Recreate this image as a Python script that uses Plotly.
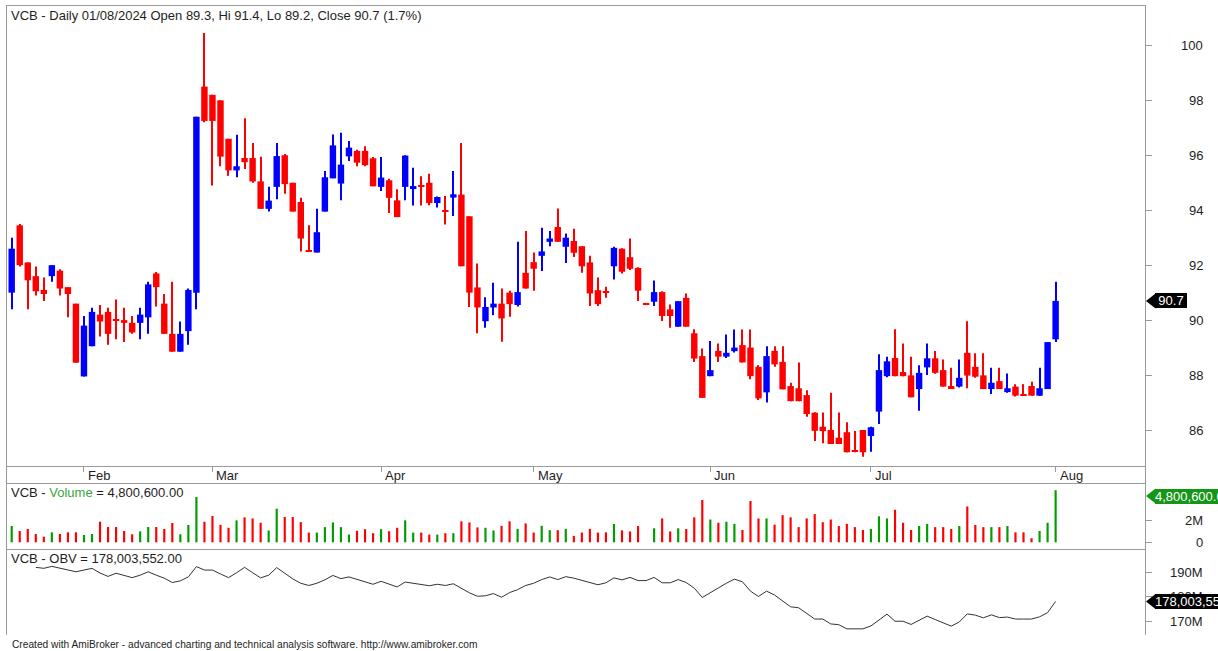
import plotly.graph_objects as go

W, H = 1218, 651

# ---------------- data ----------------
opens = [91.0, 93.45, 92.1, 91.6, 91.1, 91.6, 91.8, 91.2, 90.6, 87.95,
         89.05, 90.2, 90.3, 90.02, 90.0, 89.9, 89.9, 90.1, 91.7, 90.6,
         89.5, 88.85, 89.6, 91.0, 98.5, 98.2, 98.0, 96.6, 95.45, 95.9,
         95.9, 95.05, 94.05, 94.85, 96.0, 95.0, 94.3, 92.52, 92.46, 93.95,
         95.16, 94.97, 95.96, 96.16, 96.16, 95.89, 94.85, 95.09, 94.36, 94.85,
         94.77, 94.88, 95.0, 94.26, 94.0, 94.46, 94.57, 93.78, 91.19, 89.96,
         90.46, 90.6, 91.0, 90.55, 91.72, 92.11, 92.34, 92.85, 93.39, 92.67,
         92.88, 92.69, 92.1, 91.09, 91.02, 91.96, 92.6, 92.29, 91.9, 90.6,
         90.67, 91.02, 90.39, 89.76, 90.81, 89.52, 88.69, 87.96, 88.88, 88.67,
         88.87, 89.09, 89.0, 88.3, 87.37, 88.88, 88.48, 87.6, 87.52, 87.27,
         86.63, 86.12, 86.0, 85.72, 85.92, 85.22, 86.0, 85.78, 86.67, 87.96,
         88.62, 88.11, 87.99, 87.49, 88.28, 88.61, 88.18, 87.6, 87.58, 88.81,
         88.3, 87.99, 87.49, 87.78, 87.38, 87.58, 87.28, 87.6, 87.25, 87.49,
         89.3]
highs = [93.0, 93.5, 92.1, 91.95, 91.55, 92.0, 91.85, 91.2, 90.6, 90.15,
         90.45, 90.55, 90.45, 90.75, 90.45, 90.15, 90.45, 91.4, 91.75, 90.95,
         91.4, 89.95, 91.15, 97.4, 100.45, 98.2, 98.0, 96.6, 96.75, 97.35,
         96.45, 95.95, 94.85, 96.45, 96.05, 95.0, 94.45, 93.45, 94.05, 95.43,
         96.76, 96.82, 96.52, 96.2, 96.33, 95.94, 95.94, 95.15, 94.76, 96.0,
         95.55, 95.24, 95.33, 94.5, 94.52, 95.43, 96.45, 93.78, 92.06, 90.83,
         91.36, 91.15, 91.07, 92.85, 93.24, 92.46, 93.36, 93.24, 94.06, 93.15,
         93.33, 92.69, 92.34, 91.55, 91.21, 92.67, 92.62, 92.97, 91.92, 90.62,
         91.44, 91.05, 90.57, 90.7, 90.97, 89.67, 88.97, 89.24, 89.15, 89.48,
         89.66, 89.66, 89.66, 88.36, 89.05, 89.05, 89.05, 87.72, 88.46, 87.45,
         86.65, 86.64, 87.36, 86.64, 86.28, 85.96, 86.0, 86.12, 88.76, 88.67,
         89.67, 89.15, 88.67, 88.36, 89.15, 88.88, 88.57, 88.27, 88.57, 89.96,
         88.79, 88.79, 88.27, 88.27, 88.06, 87.67, 87.67, 87.76, 88.27, 89.2,
         91.4]
lows = [90.4, 91.95, 90.4, 90.9, 90.7, 91.4, 90.9, 90.1, 88.45, 87.95,
        89.05, 89.4, 89.1, 89.3, 89.2, 89.5, 89.3, 89.5, 90.5, 89.5,
        88.85, 88.85, 89.1, 90.4, 97.2, 94.9, 95.6, 95.25, 95.2, 95.5,
        95.0, 94.05, 93.95, 94.4, 94.6, 93.95, 92.5, 92.48, 92.46, 93.95,
        95.16, 94.36, 95.79, 95.6, 95.6, 94.87, 94.7, 93.9, 93.75, 94.36,
        94.17, 94.17, 94.18, 94.1, 93.48, 93.79, 91.96, 90.48, 89.52, 89.72,
        90.18, 89.21, 90.12, 90.5, 91.15, 91.07, 91.79, 92.69, 92.85, 92.08,
        92.3, 91.72, 90.51, 90.51, 90.81, 91.48, 91.7, 91.82, 90.7, 90.57,
        90.51, 89.97, 89.72, 89.76, 89.76, 88.48, 87.17, 87.96, 88.48, 88.62,
        88.82, 88.46, 87.85, 87.09, 87.0, 88.3, 87.48, 87.05, 87.05, 86.48,
        85.6, 85.52, 85.49, 85.49, 85.19, 85.19, 85.03, 85.21, 86.22, 87.92,
        87.96, 87.96, 87.19, 86.7, 88.0, 88.05, 87.58, 87.49, 87.55, 87.52,
        87.9, 87.49, 87.31, 87.49, 87.36, 87.22, 87.24, 87.25, 87.24, 87.49,
        89.2]
closes = [92.6, 92.0, 91.45, 91.05, 90.95, 92.0, 91.15, 90.95, 88.45, 89.8,
          90.3, 89.95, 89.5, 89.97, 89.9, 89.55, 90.2, 91.3, 91.2, 89.5,
          88.85, 89.5, 91.1, 97.4, 97.25, 97.25, 95.95, 95.45, 95.6, 95.75,
          95.05, 94.05, 94.35, 95.97, 94.95, 93.95, 92.97, 92.48, 93.2, 95.2,
          96.36, 95.66, 96.28, 95.73, 95.64, 94.87, 95.19, 94.45, 93.75, 95.99,
          94.88, 94.86, 94.26, 94.48, 93.95, 94.58, 91.96, 91.0, 90.46, 90.48,
          90.6, 90.06, 90.58, 91.02, 91.15, 91.87, 92.5, 92.97, 92.85, 93.0,
          92.45, 91.96, 90.97, 90.58, 90.99, 92.63, 91.76, 91.87, 91.07, 90.58,
          91.02, 90.15, 90.15, 90.69, 89.76, 88.6, 87.17, 88.18, 88.67, 88.81,
          89.0, 88.46, 87.96, 87.15, 88.69, 88.39, 87.48, 87.05, 87.05, 86.58,
          85.97, 85.96, 85.49, 85.49, 85.19, 85.2, 85.19, 86.1, 88.18, 88.5,
          87.96, 87.96, 87.19, 88.08, 88.61, 88.08, 87.58, 87.49, 87.9, 87.98,
          87.94, 87.49, 87.72, 87.49, 87.52, 87.25, 87.26, 87.25, 87.52, 89.2,
          90.7]
volume_m = [1.50, 1.04, 1.23, 0.77, 0.52, 0.92, 0.77, 0.92, 0.92, 0.67,
            0.77, 1.90, 1.41, 1.41, 1.04, 0.74, 1.01, 1.41, 1.41, 1.23,
            1.78, 0.74, 1.60, 4.17, 1.89, 2.42, 1.61, 1.34, 2.02, 2.30,
            2.20, 1.80, 1.09, 3.10, 2.33, 2.33, 1.86, 0.90, 0.90, 1.40,
            1.83, 1.40, 0.71, 1.06, 1.21, 0.84, 1.21, 1.02, 1.34, 2.02,
            0.90, 0.90, 0.71, 0.71, 0.84, 0.84, 1.93, 1.83, 1.37, 1.34,
            1.09, 1.52, 1.93, 1.24, 1.74, 0.90, 1.52, 1.12, 1.12, 1.24,
            0.59, 0.90, 1.24, 0.90, 0.92, 1.69, 1.10, 1.00, 1.50, 0.0,
            1.29, 2.20, 1.00, 1.29, 1.23, 2.30, 3.90, 2.10, 1.80, 1.90,
            1.70, 1.14, 3.80, 2.20, 2.20, 1.63, 2.50, 2.30, 1.40, 2.20,
            2.60, 1.85, 2.10, 1.50, 1.70, 1.40, 1.14, 1.23, 2.40, 2.20,
            3.00, 1.80, 1.14, 1.50, 1.70, 1.40, 1.40, 1.23, 1.50, 3.30,
            1.60, 1.40, 1.40, 1.40, 1.50, 0.92, 0.92, 0.37, 1.05, 1.80,
            4.8006]
obv_m = [None, None, None, 191.9, 191.5, 192.3, 191.6, 190.9, 190.1, 190.8,
         191.5, 189.6, 188.2, 189.5, 188.5, 187.7, 188.7, 190.1, 188.7, 187.5,
         185.7, 186.4, 188.0, 192.2, 190.8, 190.8, 189.2, 187.7, 189.7, 191.9,
         189.7, 187.6, 188.7, 191.8, 189.5, 187.2, 185.4, 184.5, 185.4, 186.8,
         188.6, 187.3, 188.0, 187.0, 185.8, 185.0, 186.2, 185.2, 183.9, 185.9,
         185.3, 184.8, 184.4, 185.0, 184.5, 185.2, 183.3, 181.5, 180.1, 180.3,
         181.2, 179.7, 181.6, 182.8, 184.5, 185.4, 186.9, 188.0, 186.9, 188.1,
         187.5, 186.6, 185.4, 184.8, 185.6, 187.6, 186.8, 187.8, 186.5, 186.5,
         187.8, 185.6, 185.6, 186.9, 185.7, 183.4, 179.6, 181.7, 183.5, 185.4,
         187.1, 186.0, 182.2, 180.0, 182.2, 180.6, 178.1, 175.8, 175.4, 173.2,
         170.8, 170.8, 168.8, 168.5, 166.8, 166.8, 166.8, 168.0, 170.4, 172.8,
         169.9, 169.9, 168.6, 170.2, 172.0, 170.6, 169.2, 167.9, 169.6, 172.9,
         172.4, 171.3, 172.5, 171.4, 171.6, 170.8, 170.8, 170.8, 171.7, 173.4,
         178.003552]

month_idx = [9, 25, 46, 65, 87, 107, 130]
month_lbl = ["Feb", "Mar", "Apr", "May", "Jun", "Jul", "Aug"]
price_ticks = [86, 88, 90, 92, 94, 96, 98, 100]
vol_ticks = [0, 2_000_000]
vol_tick_lbl = ["0", "2M"]
obv_ticks = [170e6, 180e6, 190e6]
obv_tick_lbl = ["170M", "180M", "190M"]

# ---------------- geometry (pixels) ----------------
X_L, X_R = 6, 1145
P_TOP, P_BOT = 5, 466
V_TOP, V_BOT = 483, 549
O_TOP, O_BOT = 549, 635
P_RANGE = [84.69, 101.47]
V_RANGE = [-0.617e6, 5.465e6]
O_RANGE = [164.29e6, 199.39e6]
X_RANGE = [-0.71, 141.13]

def px(x):
    return x / W

def py(y):
    return 1 - y / H

def val_to_pix(v, rng, top, bot):
    return bot - (v - rng[0]) / (rng[1] - rng[0]) * (bot - top)

FONT = "Liberation Sans, Arial, sans-serif"
RED, BLUE, GREEN = "#ff0000", "#0000ff", "#009c00"
GRID = "#9a9a9a"
TXT = "#1e1e1e"

n = len(closes)
idx = list(range(n))
up = [c > o for o, c in zip(opens, closes)]
ccol = [BLUE if u else RED for u in up]
vcol = [GREEN if u else RED for u in up]

fig = go.Figure()

# wicks
fig.add_trace(go.Bar(
    x=idx, y=[max(h - l, 0.04) for h, l in zip(highs, lows)], base=lows,
    width=0.13, marker=dict(color=ccol, line=dict(width=0)),
    xaxis="x", yaxis="y", hoverinfo="skip", showlegend=False))
# bodies
fig.add_trace(go.Bar(
    x=idx, y=[max(abs(c - o), 0.045) for o, c in zip(opens, closes)],
    base=[min(o, c) for o, c in zip(opens, closes)],
    width=0.8, marker=dict(color=ccol, line=dict(width=0)),
    xaxis="x", yaxis="y", hoverinfo="skip", showlegend=False))
# volume
fig.add_trace(go.Bar(
    x=idx, y=[v * 1e6 for v in volume_m], width=0.27,
    marker=dict(color=vcol, line=dict(width=0)),
    xaxis="x2", yaxis="y2", hoverinfo="skip", showlegend=False))
# OBV
fig.add_trace(go.Scatter(
    x=idx, y=[None if v is None else v * 1e6 for v in obv_m], mode="lines",
    line=dict(color="#333333", width=1), xaxis="x3", yaxis="y3",
    hoverinfo="skip", showlegend=False))

xcommon = dict(range=X_RANGE, domain=[px(X_L), px(X_R)], showgrid=False,
               zeroline=False, showline=False, fixedrange=True)
ycommon = dict(side="right", showgrid=False, zeroline=False, showline=False,
               showticklabels=False, ticks="outside", ticklen=6, tickwidth=1,
               tickcolor=GRID, fixedrange=True)

fig.update_layout(
    width=W, height=H, margin=dict(l=0, r=0, t=0, b=0),
    paper_bgcolor="white", plot_bgcolor="white", barmode="overlay",
    showlegend=False,
    xaxis=dict(**xcommon, anchor="y", tickvals=month_idx, ticks="outside",
               ticklen=5, tickcolor=GRID, showticklabels=False),
    xaxis2=dict(**xcommon, anchor="y2", showticklabels=False, ticks=""),
    xaxis3=dict(**xcommon, anchor="y3", showticklabels=False, ticks=""),
    yaxis=dict(**ycommon, anchor="x", range=P_RANGE,
               domain=[py(P_BOT), py(P_TOP)], tickvals=price_ticks),
    yaxis2=dict(**ycommon, anchor="x2", range=V_RANGE,
                domain=[py(V_BOT), py(V_TOP)], tickvals=vol_ticks),
    yaxis3=dict(**ycommon, anchor="x3", range=O_RANGE,
                domain=[py(O_BOT), py(O_TOP)], tickvals=obv_ticks),
)

# frame lines
shapes = []
def hline(y, x0=X_L, x1=X_R):
    shapes.append(dict(type="line", xref="paper", yref="paper",
                       x0=px(x0), x1=px(x1), y0=py(y + 0.5), y1=py(y + 0.5),
                       line=dict(color=GRID, width=1), layer="above"))
def vline(x, y0, y1):
    shapes.append(dict(type="line", xref="paper", yref="paper",
                       x0=px(x + 0.5), x1=px(x + 0.5), y0=py(y0), y1=py(y1),
                       line=dict(color=GRID, width=1), layer="above"))
hline(P_TOP)
hline(P_BOT)
hline(V_TOP)
hline(V_BOT)
vline(X_L, P_TOP, O_BOT)
vline(X_R, P_TOP, O_BOT)

ann = []
# right-axis tick labels
for v in price_ticks:
    ann.append(dict(x=px(1205), y=v, xref="paper", yref="y", text=str(v),
                    xanchor="right", yanchor="middle", showarrow=False,
                    font=dict(family=FONT, size=13, color=TXT)))
for v, t in zip(vol_ticks, vol_tick_lbl):
    ann.append(dict(x=px(1205), y=v, xref="paper", yref="y2", text=t,
                    xanchor="right", yanchor="middle", showarrow=False,
                    font=dict(family=FONT, size=13, color=TXT)))
for v, t in zip(obv_ticks, obv_tick_lbl):
    ann.append(dict(x=px(1205), y=v, xref="paper", yref="y3", text=t,
                    xanchor="right", yanchor="middle", showarrow=False,
                    font=dict(family=FONT, size=13, color=TXT)))
# month labels
for m, t in zip(month_idx, month_lbl):
    ann.append(dict(x=m, y=py(475), xref="x", yref="paper", text=t,
                    xanchor="left", yanchor="middle", xshift=2, showarrow=False,
                    font=dict(family=FONT, size=13, color=TXT)))

# titles
last = n - 1
chg = (closes[last] / closes[last - 1] - 1) * 100
title = (f"VCB - Daily 01/08/2024 Open {opens[last]:.1f}, Hi {highs[last]:.1f}, "
         f"Lo {lows[last]:.1f}, Close {closes[last]:.1f} ({chg:.1f}%)")
ann.append(dict(x=px(9), y=py(15.5), xref="paper", yref="paper", text=title,
                xanchor="left", yanchor="middle", showarrow=False,
                font=dict(family=FONT, size=13, color=TXT)))
vol_last = volume_m[last] * 1e6
ann.append(dict(x=px(9), y=py(492.5), xref="paper", yref="paper",
                text=f'VCB - <span style="color:#3aa53a">Volume</span> = {vol_last:,.2f}',
                xanchor="left", yanchor="middle", showarrow=False,
                font=dict(family=FONT, size=13, color=TXT)))
obv_last = round(obv_m[last] * 1e6)
ann.append(dict(x=px(9), y=py(558), xref="paper", yref="paper",
                text=f"VCB - OBV = {obv_last:,.2f}",
                xanchor="left", yanchor="middle", showarrow=False,
                font=dict(family=FONT, size=13, color=TXT)))
ann.append(dict(x=px(10), y=py(644), xref="paper", yref="paper",
                text="Created with AmiBroker - advanced charting and technical analysis software. http://www.amibroker.com",
                xanchor="left", yanchor="middle", showarrow=False,
                font=dict(family=FONT, size=10.2, color=TXT)))

# value marker boxes
def marker_box(ypix, text, color, width):
    shapes.append(dict(type="path", xref="paper", yref="paper",
                       path=f"M {px(1146)},{py(ypix)} L {px(1155.5)},{py(ypix - 7.5)} "
                            f"L {px(1155.5)},{py(ypix + 7.5)} Z",
                       fillcolor=color, line=dict(width=0), layer="above"))
    ann.append(dict(x=px(1155), y=py(ypix), xref="paper", yref="paper",
                    text=text, xanchor="left", yanchor="middle", showarrow=False,
                    bgcolor=color, borderpad=0, borderwidth=0,
                    width=width, height=15, align="center" if width < 50 else "left",
                    font=dict(family=FONT, size=13, color="white")))

marker_box(val_to_pix(closes[last], P_RANGE, P_TOP, P_BOT), f"{closes[last]:.1f}", "#000000", 32)
marker_box(496, f"{vol_last:,.2f}", "#169616", 110)
marker_box(val_to_pix(obv_last, O_RANGE, O_TOP, O_BOT), f"{obv_last:,.2f}", "#000000", 110)

fig.update_layout(shapes=shapes, annotations=ann)
fig.write_html("out.html")
